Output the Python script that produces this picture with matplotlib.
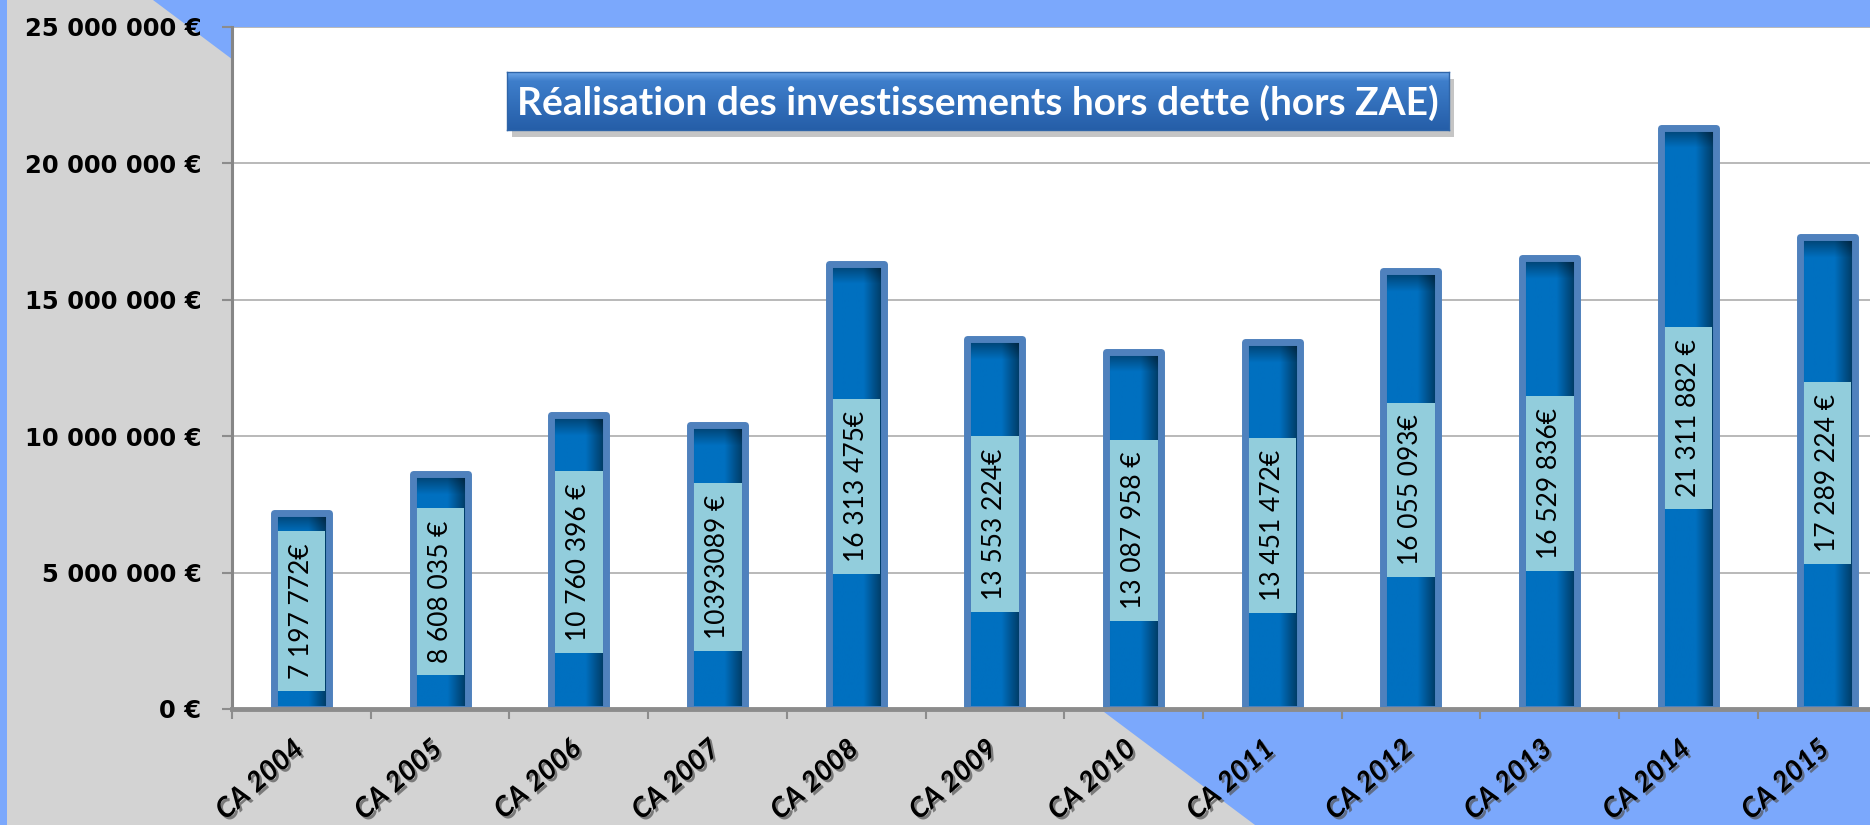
import numpy as np
import matplotlib
matplotlib.use('Agg')
import matplotlib.pyplot as plt
from matplotlib.patches import Rectangle, Polygon
import matplotlib.patheffects as pe
import matplotlib.transforms as mtrans

# ---------------- data ----------------
categories = ['CA 2004', 'CA 2005', 'CA 2006', 'CA 2007', 'CA 2008', 'CA 2009',
              'CA 2010', 'CA 2011', 'CA 2012', 'CA 2013', 'CA 2014', 'CA 2015']
values = [7197772, 8608035, 10760396, 10393089, 16313475, 13553224,
          13087958, 13451472, 16055093, 16529836, 21311882, 17289224]
value_labels = ['7 197 772€', '8 608 035 €', '10 760 396 €', '10393089 €',
                '16 313 475€', '13 553 224€', '13 087 958 €', '13 451 472€',
                '16 055 093€', '16 529 836€', '21 311 882 €', '17 289 224 €']
y_ticks = [0, 5000000, 10000000, 15000000, 20000000, 25000000]
y_tick_labels = ['0 €', '5 000 000 €', '10 000 000 €', '15 000 000 €',
                 '20 000 000 €', '25 000 000 €']
title = 'Réalisation des investissements hors dette (hors ZAE)'

# ---------------- figure ----------------
W, H = 1870, 825
fig = plt.figure(figsize=(W / 100, H / 100), dpi=100)
fig.patch.set_facecolor('#7BA8FC')
gray_bg = Polygon([(7 / W, 1), (153 / W, 1), (1255 / W, 0), (7 / W, 0)],
                  closed=True, transform=fig.transFigure,
                  fc='#D3D3D3', ec='none', zorder=-5)
fig.patches.append(gray_bg)

ax = fig.add_axes([232 / W, 116 / H, 1 - 232 / W, (709 - 27) / H])
ax.set_facecolor('white')
cat_px = 138.7
XLIM = (-0.5, -0.5 + (W - 232) / cat_px)
YLIM = (0, 25000000)
ax.set_xlim(*XLIM)
ax.set_ylim(*YLIM)

x = np.arange(len(categories))
bw = 0.397
border_lw = 5.0  # points

fig.canvas.draw()
def px_x(d):
    return ax.transData.transform((d, 0))[0] - ax.transData.transform((0, 0))[0]
def px_y(d):
    return ax.transData.transform((0, d))[1] - ax.transData.transform((0, 0))[1]
ppx = px_x(1.0)
ppy = px_y(1.0)

base = np.array([0, 112, 192]) / 255.0
nx = 60
u = np.linspace(0, 1, nx)
fx = np.ones(nx)
fx = np.where(u < 0.08, 0.85 + 0.15 * u / 0.08, fx)
fx = np.where(u > 0.62, 1 - 0.55 * (u - 0.62) / 0.38, fx)

texts = []
for xi, v, lab in zip(x, values, value_labels):
    ph = max(int(v * ppy), 2)
    s = np.arange(ph)
    gy = 0.55 + 0.45 * np.clip(s / 20.0, 0, 1)
    fac = gy[:, None] * fx[None, :]
    img = fac[:, :, None] * base[None, None, :]
    ax.imshow(img, extent=[xi - bw / 2, xi + bw / 2, 0, v], aspect='auto',
              origin='upper', interpolation='bilinear', zorder=2)
    ax.add_patch(Rectangle((xi - bw / 2, 0), bw, v, fill=False,
                           ec='#4F81BD', lw=border_lw, joinstyle='round',
                           zorder=5))
    t = ax.text(xi, v / 2, lab, rotation=90, ha='center', va='center',
                fontsize=19, family='Lato', color='black', zorder=4)
    texts.append(t)

ax.set_xlim(*XLIM)
ax.set_ylim(*YLIM)

fig.canvas.draw()
renderer = fig.canvas.get_renderer()
border_px = border_lw * 100 / 72
iw = bw - border_px / ppx
for t, xi, v in zip(texts, x, values):
    ext = t.get_window_extent(renderer)
    bh = (ext.height + 24) / ppy
    ax.add_patch(Rectangle((xi - iw / 2, v / 2 - bh / 2), iw, bh,
                           fc='#92CDDC', ec='none', zorder=3))

# axes styling
for sp in ['top', 'right']:
    ax.spines[sp].set_visible(False)
ax.spines['left'].set_color('#868686')
ax.spines['left'].set_linewidth(2.2)
ax.spines['bottom'].set_color('#8C8C8C')
ax.spines['bottom'].set_linewidth(3.5)
ax.spines['bottom'].set_zorder(6)
ax.spines['left'].set_zorder(6)

ax.set_yticks(y_ticks)
ax.set_yticklabels(y_tick_labels, fontsize=17.5, fontweight='bold',
                   family='DejaVu Sans', color='black')
ax.tick_params(axis='y', length=7, width=1.5, color='#8C8C8C', pad=15)
ax.yaxis.grid(True, color='#A6A6A6', lw=1.1)
ax.set_axisbelow(True)

ax.set_xticks(x)
ax.set_xticklabels(categories, rotation=41, ha='right', va='top',
                   rotation_mode='anchor', fontsize=20, fontweight='bold',
                   fontstyle='italic', family='Lato', color='black')
ax.set_xticks(np.arange(-0.5, len(categories), 1), minor=True)
ax.tick_params(axis='x', which='major', length=0, pad=19)
ax.tick_params(axis='x', which='minor', length=7, width=1.5, color='#8C8C8C')
shift = mtrans.ScaledTranslation(-0.10, 0, fig.dpi_scale_trans)
for lbl in ax.get_xticklabels():
    lbl.set_transform(lbl.get_transform() + shift)
    lbl.set_path_effects([pe.SimplePatchShadow(offset=(1.8, -1.8),
                                               shadow_rgbFace='#555555',
                                               alpha=0.7),
                          pe.Normal()])

ax.set_xlim(*XLIM)
ax.set_ylim(*YLIM)

# ---------------- title box ----------------
bx0, by0, bx1, by1 = 507, 72, 1449, 130
shadow = Rectangle(((bx0 + 5) / W, 1 - (by1 + 7) / H), (bx1 - bx0) / W,
                   (by1 - by0) / H, transform=fig.transFigure,
                   fc='#7F7F7F', ec='none', alpha=0.45, zorder=1)
fig.patches.append(shadow)
tax = fig.add_axes([bx0 / W, 1 - by1 / H, (bx1 - bx0) / W, (by1 - by0) / H],
                   zorder=2)
top_c = np.array([0x6E, 0xA6, 0xE8]) / 255.0
mid_c = np.array([0x3E, 0x7E, 0xCB]) / 255.0
bot_c = np.array([0x25, 0x5E, 0xA8]) / 255.0
ny = 60
tt = np.linspace(0, 1, ny)
grad = np.where(tt[:, None] < 0.15,
                top_c + (mid_c - top_c) * (tt[:, None] / 0.15),
                mid_c + (bot_c - mid_c) * ((tt[:, None] - 0.15) / 0.85))
tax.imshow(grad[:, None, :].repeat(10, axis=1), aspect='auto',
           extent=[0, 1, 0, 1], interpolation='bilinear')
tax.set_xlim(0, 1)
tax.set_ylim(0, 1)
tax.set_xticks([])
tax.set_yticks([])
for sp in tax.spines.values():
    sp.set_color('#2F65A8')
    sp.set_linewidth(1.0)
tax.text(0.5, 0.47, title, transform=tax.transAxes, ha='center', va='center',
         color='white', fontsize=28, fontweight='bold', family='Lato')

fig.savefig('out.png', dpi=100, facecolor=fig.get_facecolor())
